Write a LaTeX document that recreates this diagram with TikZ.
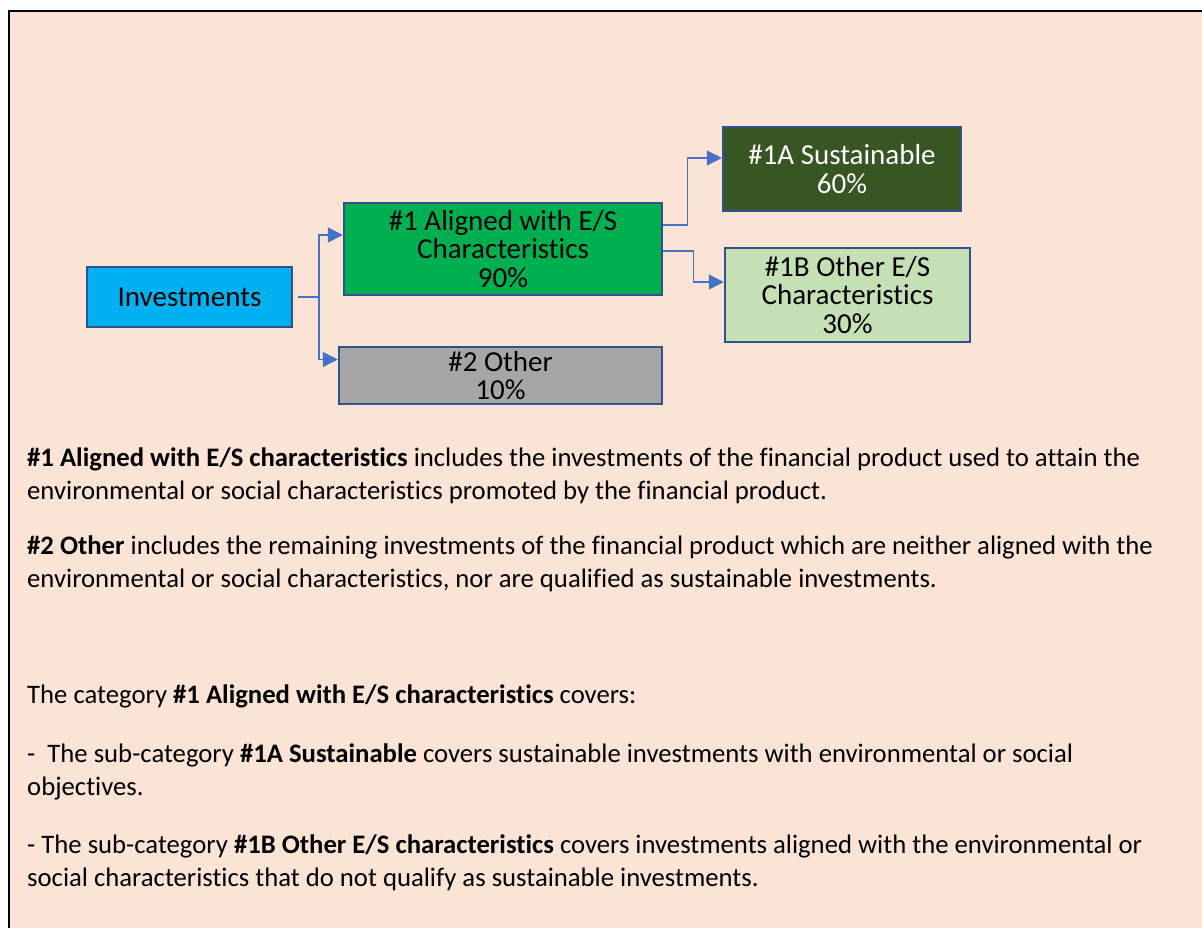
\documentclass[tikz,border=0pt]{standalone}
\usepackage{fontspec}
\setmainfont{Carlito}[Ligatures=NoCommon]
\usepackage{tikz}
\usetikzlibrary{arrows.meta,positioning,calc}
\definecolor{pagepeach}{HTML}{FBE4D5}
\definecolor{boxedge}{HTML}{2F528F}
\definecolor{linkblue}{HTML}{4472C4}
\definecolor{invblue}{HTML}{00B0F0}
\definecolor{alignedgreen}{HTML}{00B050}
\definecolor{othergrey}{HTML}{A6A6A6}
\definecolor{sustgreen}{HTML}{375623}
\definecolor{palegreen}{HTML}{C5E0B4}
\tikzset{
  catbox/.style={
    draw=boxedge,
    line width=2.5pt,
    align=center,
    inner sep=0pt,
    font=\fontsize{29}{28.5}\selectfont
  },
  arrow/.style={
    -{Triangle[length=15pt,width=15pt]},
    line width=1.5pt,
    draw=linkblue
  },
  bodytext/.style={
    anchor=base west,
    align=left,
    inner sep=0pt,
    font=\fontsize{26.7}{33}\selectfont
  }
}

\begin{document}
\begin{tikzpicture}[x=1pt,y=-1pt]
\useasboundingbox (0,0) rectangle (1202,928);
\fill[pagepeach] (9,11) rectangle (1202,928);
\draw[line width=2.5pt] (9,928) -- (9,11) -- (1202,11);

\node[catbox, fill=invblue, minimum width=205pt, minimum height=60pt] (inv) at (189.5,297) {Investments};
\node[catbox, fill=alignedgreen, minimum width=318pt, minimum height=92pt] (al) at (503,249) {\#1 Aligned with E/S\\Characteristics\\90\%};
\node[catbox, fill=othergrey, minimum width=323pt, minimum height=57pt] (oth) at (500.5,375.5) {\#2 Other\\10\%};
\node[catbox, fill=sustgreen, text=white, minimum width=238pt, minimum height=84pt] (sa) at (842,169) {\#1A Sustainable\\60\%};
\node[catbox, fill=palegreen, minimum width=245pt, minimum height=94pt] (sb) at (847.5,295) {\#1B Other E/S\\Characteristics\\30\%};

\coordinate (split) at (319,297);
\draw[arrow] ([xshift=5pt]inv.east) -- (split) |- ([yshift=14pt]al.west);
\draw[arrow] (split) |- ([yshift=16pt]oth.west);
\draw[arrow] ([yshift=24pt]al.east) -- ++(24,0) |- ([yshift=11pt]sa.west);
\draw[arrow] ([yshift=-2pt]al.east) -- ++(30,0) |- ([yshift=13pt]sb.west);

% base anchor of a two-line node sits on its last line
\node[bodytext] (p1) at (27,499) {\textbf{\#1 Aligned with E/S characteristics} includes the investments of the financial product used to attain the\\environmental or social characteristics promoted by the financial product.};
\node[bodytext] (p2) at (27,587) {\textbf{\#2 Other} includes the remaining investments of the financial product which are neither aligned with the\\environmental or social characteristics, nor are qualified as sustainable investments.};
\node[bodytext] (p3) at (27,703) {The category \textbf{\#1 Aligned with E/S characteristics} covers:};
\node[bodytext] (p4) at (27,795) {-\ \ The sub-category \textbf{\#1A Sustainable} covers sustainable investments with environmental or social\\objectives.};
\node[bodytext] (p5) at (27,886) {- The sub-category \textbf{\#1B Other E/S characteristics} covers investments aligned with the environmental or\\social characteristics that do not qualify as sustainable investments.};
\end{tikzpicture}
\end{document}
